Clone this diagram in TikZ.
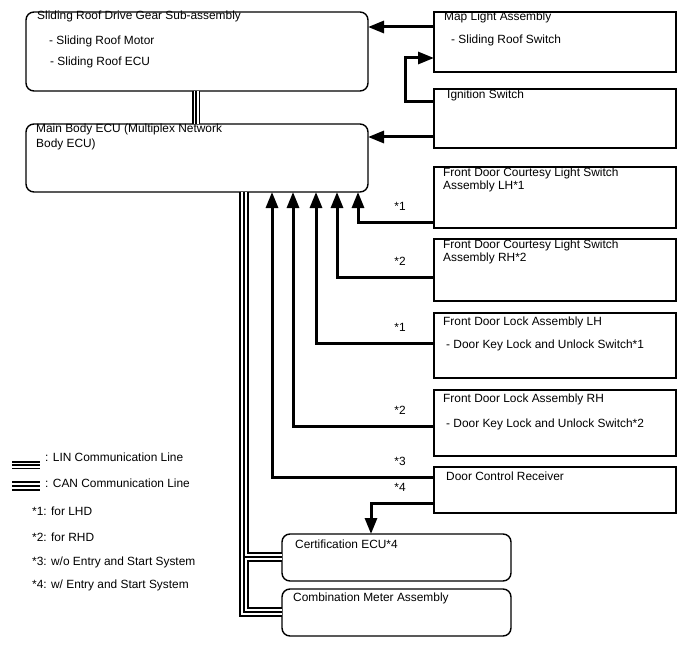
\documentclass[tikz,border=0pt]{standalone}
\usepackage{fontspec}
\setmainfont{Liberation Sans}
\usetikzlibrary{arrows.meta,calc}
\begin{document}
\begin{tikzpicture}[x=1pt,y=-1pt,
  box/.style={draw, line width=1.4pt, inner sep=0pt, outer sep=0pt, anchor=north west},
  rbox/.style={box, rounded corners=8pt},
  txt/.style={anchor=base west, inner sep=0pt, font=\fontsize{11.9}{13}\selectfont},
  notelbl/.style={anchor=center, inner sep=0pt, font=\fontsize{11.9}{13}\selectfont},
  conn/.style={line width=3pt, -{Triangle[width=12pt,length=16pt]}},
  line join=miter]
\useasboundingbox (0,0) rectangle (688,658);
% boxes
\node[rbox, minimum width=342pt, minimum height=79pt] (sr) at (26,12) {};
\node[rbox, minimum width=342pt, minimum height=68pt] (mb) at (26,124) {};
\node[box, minimum width=242pt, minimum height=60pt] (ml) at (434,12) {};
\node[box, minimum width=242pt, minimum height=59pt] (ig) at (434,89) {};
\node[box, minimum width=242pt, minimum height=61pt] (cl) at (434,167) {};
\node[box, minimum width=242pt, minimum height=62pt] (cr) at (434,239) {};
\node[box, minimum width=242pt, minimum height=65pt] (ll) at (434,313) {};
\node[box, minimum width=242pt, minimum height=66pt] (lr) at (434,390) {};
\node[box, minimum width=242pt, minimum height=46pt] (dc) at (434,467) {};
\node[rbox, minimum width=229pt, minimum height=47pt] (ce) at (282,534) {};
\node[rbox, minimum width=229pt, minimum height=47pt] (cm) at (282,589) {};
% texts
\node[txt] (t1) at (37,20) {Sliding Roof Drive Gear Sub-assembly};
\node[txt] (t2) at (49,45) {- Sliding Roof Motor};
\node[txt] (t3) at (50,66) {- Sliding Roof ECU};
\node[txt] (t4) at (36,133) {Main Body ECU (Multiplex Network};
\node[txt] (t5) at (36,148) {Body ECU)};
\node[txt] (t6) at (444,21) {Map Light Assembly};
\node[txt] (t7) at (451,44) {- Sliding Roof Switch};
\node[txt] (t8) at (447,99) {Ignition Switch};
\node[txt] (t9) at (443,176) {Front Door Courtesy Light Switch};
\node[txt] (t10) at (443,189) {Assembly LH*1};
\node[txt] (t11) at (443,248) {Front Door Courtesy Light Switch};
\node[txt] (t12) at (443,261) {Assembly RH*2};
\node[txt] (t13) at (443,325) {Front Door Lock Assembly LH};
\node[txt] (t14) at (446,348) {- Door Key Lock and Unlock Switch*1};
\node[txt] (t15) at (443,402) {Front Door Lock Assembly RH};
\node[txt] (t16) at (446,427) {- Door Key Lock and Unlock Switch*2};
\node[txt] (t17) at (446,480) {Door Control Receiver};
\node[txt] (t18) at (295,548) {Certification ECU*4};
\node[txt] (t19) at (293,601) {Combination Meter Assembly};
% connector labels
\node[notelbl] (m1) at (400,206) {*1};
\node[notelbl] (m2) at (400,261) {*2};
\node[notelbl] (m3) at (400,327) {*1};
\node[notelbl] (m4) at (400,410) {*2};
\node[notelbl] (m5) at (400,461) {*3};
\node[notelbl] (m6) at (400,487) {*4};
% connector coordinates
\coordinate (p1) at ($(ml.north west)+(0,15)$);
\coordinate (ig1) at ($(ig.north west)+(0,13)$);
\coordinate (ml1) at ($(ml.north west)+(0,46)$);
\coordinate (ig2) at ($(ig.north west)+(0,48)$);
\coordinate (cl1) at ($(cl.north west)+(0,55)$);
\coordinate (cr1) at ($(cr.north west)+(0,38)$);
\coordinate (ll1) at ($(ll.north west)+(0,30)$);
\coordinate (lr1) at ($(lr.north west)+(0,36)$);
\coordinate (dc1) at ($(dc.north west)+(0,10)$);
\coordinate (dc2) at ($(dc.north west)+(0,36)$);
\coordinate (mbA) at ($(mb.south west)+(332,0)$);
\coordinate (mbB) at ($(mb.south west)+(311,0)$);
\coordinate (mbC) at ($(mb.south west)+(290,0)$);
\coordinate (mbD) at ($(mb.south west)+(267,0)$);
\coordinate (mbE) at ($(mb.south west)+(246,0)$);
\coordinate (ceT) at ($(ce.north west)+(89,0)$);
% arrows
\draw[conn] (p1) -- (p1 -| sr.east);
\draw[conn] (ig1) -- ++(-29,0) |- (ml1);
\draw[conn] (ig2) -- (ig2 -| mb.east);
\draw[conn] (cl1) -| (mbA);
\draw[conn] (cr1) -| (mbB);
\draw[conn] (ll1) -| (mbC);
\draw[conn] (lr1) -| (mbD);
\draw[conn] (dc1) -| (mbE);
\draw[conn] (dc2) -| (ceT);
% LIN line
\coordinate (lin0) at ($(sr.south west)+(170,0)$);
\foreach \w/\c in {8/black,5/white,2.5/black}
  \draw[line width=\w pt, draw=\c] (lin0) -- (lin0 |- mb.north);
% CAN line
\coordinate (can0) at ($(mb.south west)+(218,0)$);
\coordinate (cmw) at ($(cm.north west)+(0,23)$);
\coordinate (cew) at ($(ce.north west)+(0,23)$);
\foreach \w/\c in {10/black,6/white,2.5/black}
  \draw[line width=\w pt, draw=\c] (can0) -- (can0 |- cmw) -- (cmw) (can0 |- cew) -- (cew);
% legend
\coordinate (lg1) at (12,465);
\coordinate (lg2) at (40,465);
\coordinate (lg3) at (12,486);
\coordinate (lg4) at (40,486);
\foreach \w/\c in {8/black,5/white,2.5/black}
  \draw[line width=\w pt, draw=\c] (lg1) -- (lg2);
\foreach \w/\c in {10/black,6/white,2.5/black}
  \draw[line width=\w pt, draw=\c] (lg3) -- (lg4);
\node[txt] (l1) at (45,461) {: LIN Communication Line};
\node[txt] (l2) at (45,487) {: CAN Communication Line};
\node[txt] (l3) at (32,515) {*1: for LHD};
\node[txt] (l4) at (32,541) {*2: for RHD};
\node[txt] (l5) at (32,565) {*3: w/o Entry and Start System};
\node[txt] (l6) at (32,588) {*4: w/ Entry and Start System};
\end{tikzpicture}
\end{document}
